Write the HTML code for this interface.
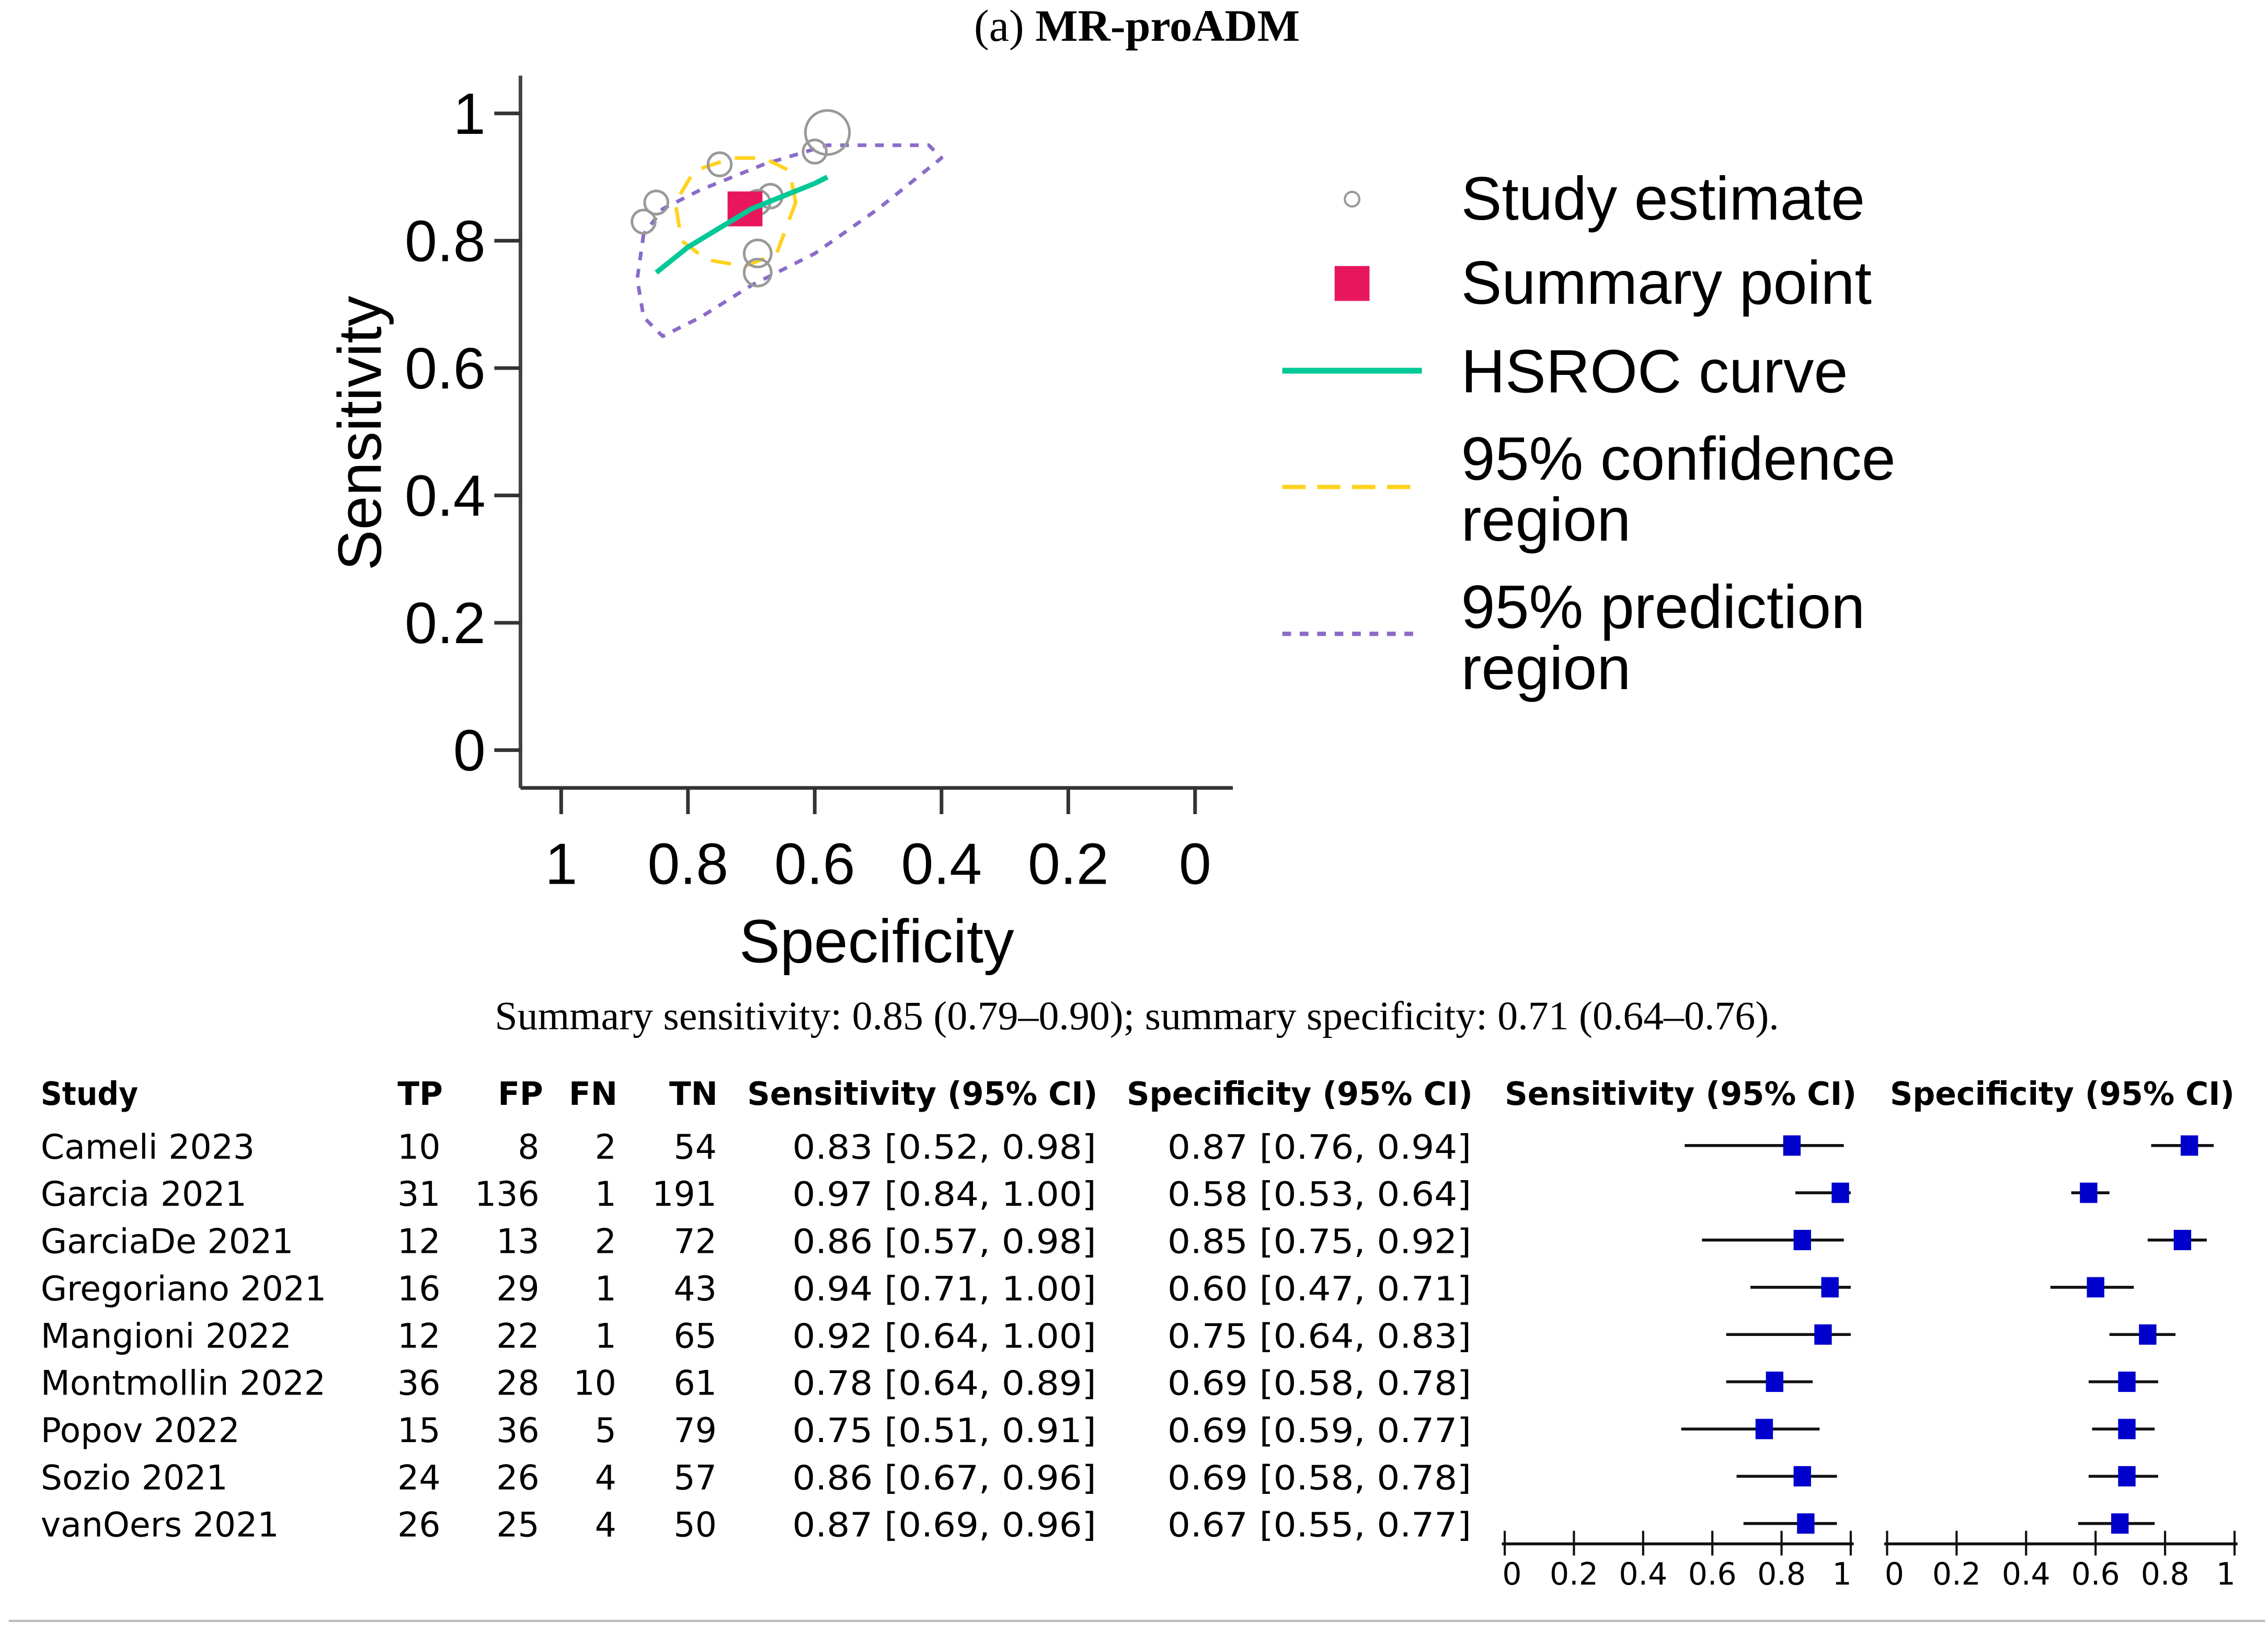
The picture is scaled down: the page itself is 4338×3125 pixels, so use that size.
<!DOCTYPE html>
<html><head><meta charset="utf-8"><style>
html,body{margin:0;padding:0;background:#fff;}
svg{display:block;}
</style></head><body>
<svg id="fig" width="4338" height="3125" viewBox="0 0 1560 1124" preserveAspectRatio="none" xmlns="http://www.w3.org/2000/svg">
<text x="782" y="28" text-anchor="middle" font-family="Liberation Serif, serif" font-size="31">(a) <tspan font-weight="bold">MR-proADM</tspan></text>
<g id="roc"></g>
<g id="legend">
  <circle cx="930" cy="137" r="5" fill="none" stroke="#999" stroke-width="1.5"/>
  <text x="1005" y="151" font-family="Liberation Sans, sans-serif" font-size="42">Study estimate</text>
  <rect x="918" y="183" width="24" height="24" fill="#e8175d"/>
  <text x="1005" y="209" font-family="Liberation Sans, sans-serif" font-size="42">Summary point</text>
  <line x1="882" y1="255" x2="978" y2="255" stroke="#00c896" stroke-width="4"/>
  <text x="1005" y="270" font-family="Liberation Sans, sans-serif" font-size="42">HSROC curve</text>
  <line x1="882" y1="335" x2="978" y2="335" stroke="#ffd21f" stroke-width="3" stroke-dasharray="16,8"/>
  <text x="1005" y="330" font-family="Liberation Sans, sans-serif" font-size="42">95% confidence</text>
  <text x="1005" y="372" font-family="Liberation Sans, sans-serif" font-size="42">region</text>
  <line x1="882" y1="436" x2="978" y2="436" stroke="#8a6cc8" stroke-width="3" stroke-dasharray="6,6"/>
  <text x="1005" y="432" font-family="Liberation Sans, sans-serif" font-size="42">95% prediction</text>
  <text x="1005" y="474" font-family="Liberation Sans, sans-serif" font-size="42">region</text>
</g>
<text x="782" y="708" text-anchor="middle" font-family="Liberation Serif, serif" font-size="28">Summary sensitivity: 0.85 (0.79–0.90); summary specificity: 0.71 (0.64–0.76).</text>
<g id="table"></g>
<line x1="6" y1="1115" x2="1558" y2="1115" stroke="#bbb" stroke-width="1.5"/>
</svg>
<script>
const studies=["Cameli 2023","Garcia 2021","GarciaDe 2021","Gregoriano 2021","Mangioni 2022","Montmollin 2022","Popov 2022","Sozio 2021","vanOers 2021"];
const tp=[10,31,12,16,12,36,15,24,26];
const fp=[8,136,13,29,22,28,36,26,25];
const fn=[2,1,2,1,1,10,5,4,4];
const tn=[54,191,72,43,65,61,79,57,50];
const sens=[0.83,0.97,0.86,0.94,0.92,0.78,0.75,0.86,0.87];
const sensLo=[0.52,0.84,0.57,0.71,0.64,0.64,0.51,0.67,0.69];
const sensHi=[0.98,1.00,0.98,1.00,1.00,0.89,0.91,0.96,0.96];
const spec=[0.87,0.58,0.85,0.60,0.75,0.69,0.69,0.69,0.67];
const specLo=[0.76,0.53,0.75,0.47,0.64,0.58,0.59,0.58,0.55];
const specHi=[0.94,0.64,0.92,0.71,0.83,0.78,0.77,0.78,0.77];
const summarySens=0.85, summarySpec=0.71;
const hsrocSpec=[0.85,0.80,0.75,0.70,0.65,0.60,0.58];
const hsrocSens=[0.75,0.79,0.82,0.85,0.87,0.89,0.90];
const confSpec=[0.63,0.64,0.68,0.73,0.79,0.82,0.81,0.77,0.71,0.66,0.63];
const confSens=[0.86,0.91,0.93,0.93,0.91,0.86,0.80,0.77,0.76,0.78,0.86];
const predSpec=[0.87,0.88,0.87,0.84,0.78,0.70,0.60,0.50,0.40,0.42,0.50,0.58,0.68,0.78,0.84,0.87];
const predSens=[0.81,0.74,0.68,0.65,0.68,0.73,0.78,0.85,0.93,0.95,0.95,0.95,0.92,0.88,0.85,0.81];
const ticks=[0,0.2,0.4,0.6,0.8,1];
const tickLabels=["0","0.2","0.4","0.6","0.8","1"];

const NS="http://www.w3.org/2000/svg";
function mk(parent,tag,attrs,txt){const e=document.createElementNS(NS,tag);for(const k in attrs)e.setAttribute(k,attrs[k]);if(txt!==undefined)e.textContent=txt;parent.appendChild(e);return e;}
const X=s=>386+(1-s)*436;
const Y=v=>516-v*438;
const roc=document.getElementById('roc');
let e;
e=mk(roc,'line',{x1:358,y1:52,x2:358,y2:542,stroke:'#444','stroke-width':2.5});


e=mk(roc,'line',{x1:358,y1:542,x2:848,y2:542,stroke:'#333','stroke-width':2.5});


ticks.forEach((t,i)=>{
  e=mk(roc,'line',{x1:340,y1:Y(t),x2:358,y2:Y(t),stroke:'#333','stroke-width':2.5});
  
  
  e=mk(roc,'text',{x:334,y:Y(t)+14,'text-anchor':'end','font-family':'Liberation Sans, sans-serif','font-size':40},tickLabels[i]);
  
  
  e=mk(roc,'line',{x1:X(t),y1:542,x2:X(t),y2:560,stroke:'#333','stroke-width':2.5});
  
  
  e=mk(roc,'text',{x:X(t),y:608,'text-anchor':'middle','font-family':'Liberation Sans, sans-serif','font-size':40},tickLabels[i]);
  
  
});
e=mk(roc,'text',{x:262,y:298,'text-anchor':'middle',transform:'rotate(-90 262 298)','font-family':'Liberation Sans, sans-serif','font-size':42},'Sensitivity');


e=mk(roc,'text',{x:603,y:662,'text-anchor':'middle','font-family':'Liberation Sans, sans-serif','font-size':42},'Specificity');


function pathFrom(sx,sy,close){return sx.map((s,i)=>(i?'L':'M')+X(s).toFixed(1)+','+Y(sy[i]).toFixed(1)).join(' ')+(close?' Z':'');}
e=mk(roc,'path',{d:pathFrom(predSpec,predSens,true),fill:'none',stroke:'#8a6cc8','stroke-width':2.5,'stroke-dasharray':'6,6','stroke-linejoin':'round'});


e=mk(roc,'path',{d:pathFrom(confSpec,confSens,true),fill:'none',stroke:'#ffd21f','stroke-width':2.5,'stroke-dasharray':'14,10'});


studies.forEach((s,i)=>{
  const n=tp[i]+fp[i]+fn[i]+tn[i];
  e=mk(roc,'circle',{cx:X(spec[i]),cy:Y(sens[i]),r:Math.max(8,Math.sqrt(n)*0.8),fill:'none',stroke:'#999','stroke-width':1.8});
  
  
});
e=mk(roc,'rect',{x:X(summarySpec)-12,y:Y(summarySens)-12,width:24,height:24,fill:'#e8175d'});


e=mk(roc,'path',{d:pathFrom(hsrocSpec,hsrocSens,false),fill:'none',stroke:'#00c896','stroke-width':3.5});



const tbl=document.getElementById('table');
const F='DejaVu Sans, sans-serif';
const hdr=[["Study",28,'start',67],["TP",289,'middle',null],["FP",358,'middle',null],["FN",408,'middle',null],["TN",477,'middle',null],["Sensitivity (95% CI)",514,'start',241],["Specificity (95% CI)",775,'start',238],["Sensitivity (95% CI)",1035,'start',242],["Specificity (95% CI)",1300,'start',237]];
hdr.forEach(h=>{
  const a={x:h[1],y:760,'text-anchor':h[2],'font-family':F,'font-size':22,'font-weight':'bold'};
  if(h[3]){a.textLength=h[3];a.lengthAdjust='spacingAndGlyphs';}
  e=mk(tbl,'text',a,h[0]);
  
  
});
const SX=v=>1035+v*238, PX=v=>1298+v*239;
const f2=v=>v.toFixed(2);
studies.forEach((s,i)=>{
  const y=797+i*32.5;
  const cells=[[s,28,'start'],[tp[i],303,'end'],[fp[i],371,'end'],[fn[i],424,'end'],[tn[i],493,'end']];
  cells.forEach(c=>{
    e=mk(tbl,'text',{x:c[1],y:y,'text-anchor':c[2],'font-family':F,'font-size':23.3},String(c[0]));
    
    
  });
  e=mk(tbl,'text',{x:754,y:y,'text-anchor':'end','font-family':F,'font-size':23,textLength:209,lengthAdjust:'spacingAndGlyphs'},f2(sens[i])+' ['+f2(sensLo[i])+', '+f2(sensHi[i])+']');
  
  
  e=mk(tbl,'text',{x:1012,y:y,'text-anchor':'end','font-family':F,'font-size':23,textLength:209,lengthAdjust:'spacingAndGlyphs'},f2(spec[i])+' ['+f2(specLo[i])+', '+f2(specHi[i])+']');
  
  
  const cy=y-9;
  e=mk(tbl,'line',{x1:SX(sensLo[i]),y1:cy,x2:SX(sensHi[i]),y2:cy,stroke:'#111','stroke-width':2});
  
  
  e=mk(tbl,'rect',{x:SX(sens[i])-6,y:cy-7,width:12,height:14,fill:'#0000cc'});
  
  
  e=mk(tbl,'line',{x1:PX(specLo[i]),y1:cy,x2:PX(specHi[i]),y2:cy,stroke:'#111','stroke-width':2});
  
  
  e=mk(tbl,'rect',{x:PX(spec[i])-6,y:cy-7,width:12,height:14,fill:'#0000cc'});
  
  
});
[[SX,1033,1275],[PX,1296,1539]].forEach(([fx,a,b],k)=>{
  e=mk(tbl,'line',{x1:a,y1:1062,x2:b,y2:1062,stroke:'#111','stroke-width':2});
  
  
  ticks.forEach((t,i)=>{
    e=mk(tbl,'line',{x1:fx(t),y1:1053,x2:fx(t),y2:1070,stroke:'#111','stroke-width':1.5});
    
    
    e=mk(tbl,'text',{x:fx(t)+(i==0?5:i==5?-6:0),y:1090,'text-anchor':'middle','font-family':F,'font-size':21},tickLabels[i]);
    
    
  });
});
</script>
</body></html>
